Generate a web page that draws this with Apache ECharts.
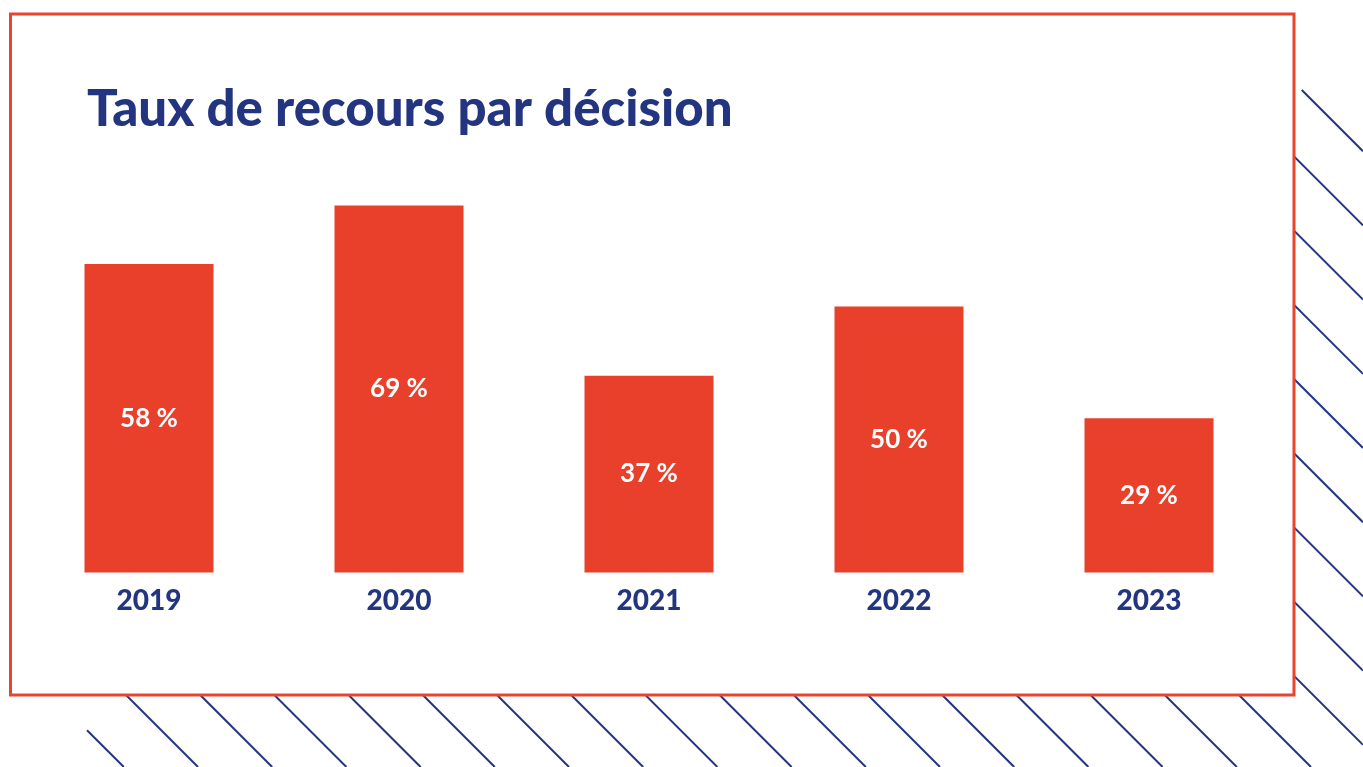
<!DOCTYPE html>
<html>
<head>
<meta charset="utf-8">
<script src="https://cdn.jsdelivr.net/npm/echarts@6/dist/echarts.min.js"></script>
<style>
  html, body { margin: 0; padding: 0; background: #fff; }
  #chart { width: 1363px; height: 767px; }
</style>
</head>
<body>
<div id="chart"></div>
<script>
const years = ['2019', '2020', '2021', '2022', '2023']
const rates = [58, 69, 37, 50, 29]
const titleText = 'Taux de recours par décision'

const navy = '#233580'
const red = '#e8402b'

// fond hachuré derrière le cadre
const hatch = []
const hx0 = 87, hy0 = 90, hx1 = 1363, hy1 = 767
for (let c = -569 - 74.2 * 2; c < hx1 - hy0; c += 74.2) {
  const ys = Math.max(hy0, hx0 - c)
  const ye = Math.min(hy1, hx1 - c)
  if (ys >= ye) continue
  hatch.push({
    type: 'line',
    z: 0,
    silent: true,
    shape: { x1: ys + c, y1: ys, x2: ye + c, y2: ye },
    style: { stroke: navy, lineWidth: 2 }
  })
}

const chart = echarts.init(document.getElementById('chart'))
chart.setOption({
  backgroundColor: '#fff',
  animation: false,
  textStyle: { fontFamily: 'Lato' },
  title: {
    text: titleText,
    left: 82,
    top: 79,
    textStyle: { color: navy, fontSize: 51, fontWeight: 900, fontFamily: 'Lato' }
  },
  graphic: hatch.concat([{
    type: 'rect',
    z: 1,
    silent: true,
    shape: { x: 10.5, y: 14, width: 1283.5, height: 681 },
    style: { fill: '#fff', stroke: '#e8442f', lineWidth: 3 }
  }]),
  grid: { left: 24, right: 89, top: 40.5, bottom: 194.5 },
  xAxis: {
    type: 'category',
    data: years,
    z: 3,
    axisLine: { show: false },
    axisTick: { show: false },
    axisLabel: {
      margin: 14,
      color: navy,
      fontSize: 28,
      fontWeight: 900,
      fontFamily: 'Lato'
    }
  },
  yAxis: { type: 'value', min: 0, max: 100, show: false },
  series: [{
    type: 'bar',
    z: 3,
    data: rates,
    barWidth: 129,
    itemStyle: { color: red },
    label: {
      show: true,
      position: 'inside',
      formatter: p => p.value + ' %',
      color: '#fff',
      fontSize: 26,
      fontWeight: 'bold',
      fontFamily: 'Lato'
    }
  }]
})
</script>
</body>
</html>
